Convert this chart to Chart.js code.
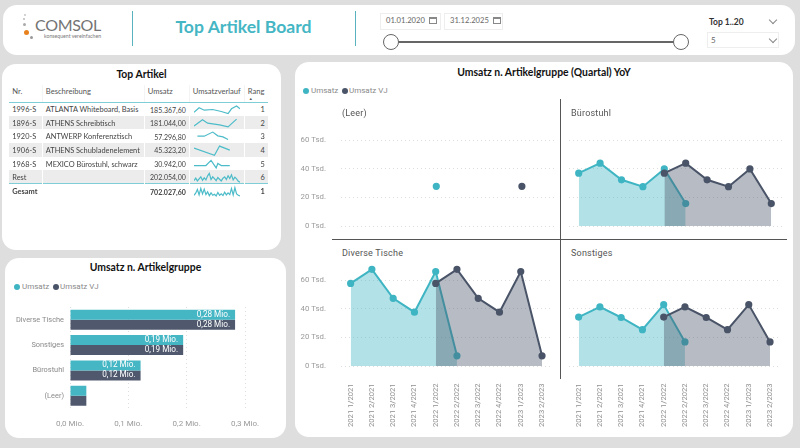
<!DOCTYPE html>
<html>
<head>
<meta charset="utf-8">
<script src="https://cdn.jsdelivr.net/npm/chart.js@4"></script>
<style>
  * { box-sizing: border-box; }
  html, body { margin: 0; padding: 0; }
  body { width: 800px; height: 448px; background: #dedede; overflow: hidden; position: relative; font-family: Lato, sans-serif; }
  .abs { position: absolute; }
  .card { position: absolute; background: #fff; border-radius: 14px; }
  .cardtitle { position: absolute; font-weight: 700; font-size: 10.4px; color: #111; text-align: center; white-space: nowrap; }
  canvas { position: absolute; }
  .dot { position: absolute; border-radius: 50%; }
  .txt { position: absolute; white-space: nowrap; line-height: 1; }
  .legend { font-size: 8px; color: #8a8a8a; font-family: Roboto, sans-serif; }
  .ptitle { font-size: 9px; color: #555; font-family: Roboto, sans-serif; letter-spacing: .2px; }
  .box { position: absolute; border: 1px solid #eee; background: #fff; }
  .chev { position: absolute; width: 6px; height: 6px; border-right: 1px solid #888; border-bottom: 1px solid #888; transform: rotate(45deg); }
  .cal { position: absolute; width: 8px; height: 7px; border: 1px solid #888; border-top-width: 2px; }
  table { position: absolute; left: 9.3px; top: 85px; width: 258.4px; border-collapse: collapse; table-layout: fixed; font-size: 7.4px; color: #444; }
  th { font-weight: 400; text-align: left; height: 17px; padding: 0 0 5px 3px; border-bottom: 1.5px solid #7fcdd6; border-left: 1px solid #f4f4f4; vertical-align: middle; color: #555; font-size: 7.6px; white-space: nowrap; }
  th:first-child, td:first-child { border-left: 0; }
  td { height: 13.67px; padding: 2px 3px 0 3px; border-left: 1px solid #fff; white-space: nowrap; line-height: 1; overflow: visible; position: relative; }
  td.num { text-align: right; }
  td.sales { font-size: 7px; }
  tr.alt td { background: #ececec; }
  tr.total td { font-weight: 700; border-top: 1.5px solid #7fcdd6; }
</style>
</head>
<body>

<!-- header -->
<div class="card" style="left:3px;top:5px;width:792px;height:50px;"></div>
<div class="dot" style="left:23.5px;top:29.5px;width:5px;height:5px;background:#e8821e;"></div>
<div class="dot" style="left:29.5px;top:35.5px;width:3.4px;height:3.4px;background:#999;"></div>
<div class="dot" style="left:22.5px;top:23px;width:3.4px;height:3.4px;background:#aaa;"></div>
<div class="dot" style="left:23px;top:18px;width:2.4px;height:2.4px;background:#bbb;"></div>
<div class="dot" style="left:24px;top:14px;width:1.6px;height:1.6px;background:#ccc;"></div>
<div class="txt" style="left:35px;top:17px;font-size:16px;color:#747474;letter-spacing:-.3px;">COMSOL</div>
<div class="txt" style="left:44px;top:34px;font-size:5.2px;color:#777;">konsequent vereinfachen</div>
<div class="abs" style="left:131.5px;top:11px;width:1.5px;height:35px;background:#58b3bf;"></div>
<div class="abs" style="left:354.5px;top:11px;width:1.5px;height:35px;background:#58b3bf;"></div>
<div class="txt" style="left:132px;width:223px;top:17.5px;text-align:center;font-size:17.6px;font-weight:700;color:#45b6c4;">Top Artikel Board</div>

<div class="box" style="left:380px;top:12.5px;width:61px;height:17px;"></div>
<div class="txt" style="left:386px;top:17px;font-size:7.6px;color:#666;">01.01.2020</div>
<div class="cal" style="left:429px;top:17px;"></div>
<div class="box" style="left:444px;top:12.5px;width:59px;height:17px;"></div>
<div class="txt" style="left:450px;top:17px;font-size:7.6px;color:#666;">31.12.2025</div>
<div class="cal" style="left:493px;top:17px;"></div>
<div class="abs" style="left:390px;top:40.5px;width:291px;height:2px;background:#666;"></div>
<div class="dot" style="left:383px;top:34px;width:16px;height:16px;background:#fff;border:1.5px solid #666;"></div>
<div class="dot" style="left:673px;top:34px;width:16px;height:16px;background:#fff;border:1.5px solid #666;"></div>
<div class="txt" style="left:709px;top:17.5px;font-size:8.5px;font-weight:700;color:#333;">Top 1..20</div>
<div class="chev" style="left:770px;top:17px;"></div>
<div class="box" style="left:707px;top:31.5px;width:72px;height:16px;"></div>
<div class="txt" style="left:711px;top:36px;font-size:8px;color:#666;">5</div>
<div class="chev" style="left:770px;top:36px;"></div>

<!-- table card -->
<div class="card" style="left:2px;top:64px;width:279px;height:186px;"></div>
<div class="cardtitle" style="left:2px;width:279px;top:68px;">Top Artikel</div>
<table id="articleTable"></table>

<!-- bar card -->
<div class="card" style="left:5px;top:258px;width:281px;height:180px;"></div>
<div class="cardtitle" style="left:5px;width:281px;top:261px;">Umsatz n. Artikelgruppe</div>
<div class="dot" style="left:14px;top:283.5px;width:6px;height:6px;background:#3fb5c3;"></div>
<div class="txt legend" style="left:22px;top:282.5px;">Umsatz</div>
<div class="dot" style="left:53px;top:283.5px;width:6px;height:6px;background:#4a5468;"></div>
<div class="txt legend" style="left:60px;top:282.5px;">Umsatz VJ</div>
<canvas id="barChart" style="left:5px;top:296px;width:281px;height:139px;" width="281" height="139"></canvas>

<!-- quarter card -->
<div class="card" style="left:295px;top:62px;width:498px;height:375px;"></div>
<div class="cardtitle" style="left:295px;width:498px;top:66px;">Umsatz n. Artikelgruppe (Quartal) YoY</div>
<div class="dot" style="left:303px;top:88px;width:6px;height:6px;background:#3fb5c3;"></div>
<div class="txt legend" style="left:311px;top:87px;">Umsatz</div>
<div class="dot" style="left:342px;top:88px;width:6px;height:6px;background:#4a5468;"></div>
<div class="txt legend" style="left:349px;top:87px;">Umsatz VJ</div>
<div class="txt ptitle" style="left:342px;top:108.5px;">(Leer)</div>
<div class="txt ptitle" style="left:571px;top:108.5px;">Bürostuhl</div>
<div class="txt ptitle" style="left:342px;top:248.5px;">Diverse Tische</div>
<div class="txt ptitle" style="left:571px;top:248.5px;">Sonstiges</div>
<canvas id="panelLeer" style="left:296px;top:117px;width:265px;height:115px;" width="265" height="115"></canvas>
<canvas id="panelBuero" style="left:561px;top:117px;width:228px;height:115px;" width="228" height="115"></canvas>
<canvas id="panelTische" style="left:296px;top:257px;width:265px;height:173px;" width="265" height="173"></canvas>
<canvas id="panelSonst" style="left:561px;top:257px;width:228px;height:173px;" width="228" height="173"></canvas>
<div class="abs" style="left:559.5px;top:99px;width:1px;height:280px;background:#555;"></div>
<div class="abs" style="left:332px;top:239px;width:455px;height:1px;background:#555;"></div>

<script>
// table
const articleNr = ['1996-S', '1896-S', '1920-S', '1906-S', '1968-S', 'Rest', 'Gesamt'];
const articleName = ['ATLANTA Whiteboard, Basis', 'ATHENS Schreibtisch', 'ANTWERP Konferenztisch', 'ATHENS Schubladenelement', 'MEXICO Bürostuhl, schwarz', '', ''];
const articleSales = ['185.367,60', '181.044,00', '57.296,80', '45.323,20', '30.942,00', '202.054,00', '702.027,60'];
const articleRank = [1, 2, 3, 4, 5, 6, 1];

// sparklines
const n = null;
const spark1 = [14, n, n, 27, n, n, 20, n, n, n, n, 22, n, n, n, n, 16, n, n, n, 10, n, 24, n, n, 32, n, 24];
const spark2 = [12, n, n, n, n, 30, n, n, 20, n, n, n, n, n, n, 15, n, n, n, n, 9, n, n, n, n, 32, n, n];
const spark3 = [n, n, 20, n, n, n, 20, n, n, n, n, 32, n, n, 21, n, n, 18, n, n, 10, n, n, n, n, n, n, n];
const spark4 = [26, n, n, n, n, n, n, n, n, n, n, n, 5, n, n, 32, n, n, n, n, n, 20, n, n, n, n, n, n];
const spark5 = [16, n, n, n, n, n, n, 16, n, n, 31, n, n, 9, 22, n, 16, n, n, n, n, 16, n, n, n, n, n, n];
const sparkRest = [10, 17, 9, 15, 21, 11, 18, 12, 24, 31, 13, 21, 16, 10, 19, 14, 9, 17, 21, 13, 24, 16, 27, 12, 20, 15, 8, 5];
const sparkTotal = [8, 14, 25, 9, 28, 12, 26, 10, 18, 7, 15, 8, 11, 6, 16, 8, 12, 7, 17, 9, 15, 10, 28, 9, 30, 12, 8, 6];
const sparkSeries = [spark1, spark2, spark3, spark4, spark5, sparkRest, sparkTotal];
const sparkMonths = sparkRest.map((v, i) => i + 1);

// bars
const barGroups = ['Diverse Tische', 'Sonstiges', 'Bürostuhl', '(Leer)'];
const barUmsatz = [0.283, 0.194, 0.121, 0.028];
const barUmsatzVJ = [0.283, 0.194, 0.121, 0.028];
const barTicks = [0, 0.1, 0.2, 0.3];

// quarters
const quarters = ['2021 1/2021', '2021 2/2021', '2021 3/2021', '2021 4/2021', '2022 1/2022', '2022 2/2022', '2022 3/2022', '2022 4/2022', '2023 1/2023', '2023 2/2023'];
const leerUmsatz = [n, n, n, n, 27.7, n, n, n, n, n];
const leerVJ = [n, n, n, n, n, n, n, n, 27.7, n];
const bueroUmsatz = [36.9, 43.9, 32.3, 27.5, 39.9, 15.7, n, n, n, n];
const bueroVJ = [n, n, n, n, 36.9, 43.9, 32.3, 27.5, 39.9, 15.7];
const tischeUmsatz = [57.7, 67.6, 47.3, 37.6, 66, 7.1, n, n, n, n];
const tischeVJ = [n, n, n, n, 57.7, 67.6, 47.3, 37.6, 66, 7.1];
const sonstUmsatz = [34.2, 41.3, 33.9, 25.4, 42.9, 16.8, n, n, n, n];
const sonstVJ = [n, n, n, n, 34.2, 41.3, 33.9, 25.4, 42.9, 16.8];

const teal = '#3fb5c3';
const dark = '#4a5468';
const chartFont = 'Roboto';

// build the table
const table = document.getElementById('articleTable');
let html = '<colgroup><col style="width:33px"><col style="width:102px"><col style="width:45px"><col style="width:55px"><col></colgroup>';
html += '<tr><th>Nr.</th><th>Beschreibung</th><th>Umsatz</th><th>Umsatzverlauf</th><th>Rang<div class="abs" style="left:4px;top:11px;font-size:4px;">&#9650;</div></th></tr>';
articleNr.forEach((nr, i) => {
  const cls = i === 6 ? 'total' : (i % 2 === 1 ? 'alt' : '');
  html += '<tr class="' + cls + '"><td>' + nr + '</td><td>' + articleName[i] + '</td><td class="num sales">' + articleSales[i] + '</td>' +
    '<td><canvas id="spark' + i + '" width="46" height="14" style="left:4.5px;top:0;width:46px;height:14px;"></canvas></td><td class="num">' + articleRank[i] + '</td></tr>';
});
table.innerHTML = html;
table.querySelector('th:last-child').style.position = 'relative';

sparkSeries.forEach((values, i) => {
  new Chart(document.getElementById('spark' + i), {
    type: 'line',
    data: {
      labels: sparkMonths,
      datasets: [{ data: values, borderColor: '#4dbcc9', borderWidth: 1.2, pointRadius: 0, spanGaps: true, clip: false, tension: 0 }]
    },
    options: {
      responsive: false,
      animation: false,
      plugins: { legend: { display: false }, tooltip: { enabled: false } },
      scales: { x: { display: false }, y: { display: false, min: 0, max: 41 } }
    }
  });
});

// value labels inside the bars
const barLabels = {
  id: 'barLabels',
  afterDatasetsDraw(chart) {
    const ctx = chart.ctx;
    ctx.save();
    ctx.font = '8.2px ' + chartFont;
    ctx.fillStyle = '#fff';
    ctx.textAlign = 'right';
    ctx.textBaseline = 'middle';
    chart.data.datasets.forEach((ds, d) => {
      chart.getDatasetMeta(d).data.forEach((bar, i) => {
        if (ds.data[i] < 0.1) return;
        ctx.fillText(ds.data[i].toFixed(2).replace('.', ',') + ' Mio.', bar.x - 5, bar.y);
      });
    });
    ctx.restore();
  }
};

new Chart(document.getElementById('barChart'), {
  type: 'bar',
  plugins: [barLabels],
  data: {
    labels: barGroups,
    datasets: [
      { label: 'Umsatz', data: barUmsatz, backgroundColor: '#45b6c4', categoryPercentage: 0.787, barPercentage: 1 },
      { label: 'Umsatz VJ', data: barUmsatzVJ, backgroundColor: '#4f586d', categoryPercentage: 0.787, barPercentage: 1 }
    ]
  },
  options: {
    indexAxis: 'y',
    responsive: false,
    animation: false,
    layout: { padding: { top: 11, right: 41 } },
    plugins: { legend: { display: false }, tooltip: { enabled: false } },
    scales: {
      x: {
        min: 0,
        max: 0.3,
        afterBuildTicks: s => { s.ticks = barTicks.map(v => ({ value: v })); },
        afterFit: s => { s.height = 26.5; },
        border: { display: true, dash: [1, 3], color: 'transparent' },
        grid: { color: '#dedede', lineWidth: 1, drawTicks: false },
        ticks: {
          padding: 11,
          maxRotation: 0,
          color: '#9a9a9a',
          font: { family: chartFont, size: 8 },
          callback: v => v.toFixed(1).replace('.', ',') + ' Mio.'
        }
      },
      y: {
        afterFit: s => { s.width = 65; },
        border: { display: false },
        grid: { display: false, drawTicks: false },
        ticks: { padding: 6, color: '#8a8a8a', font: { family: chartFont, size: 7.4 } }
      }
    }
  }
});

function quarterPanel(id, umsatz, vj, showY, showX) {
  const yWidth = showY ? 44 : 7;
  new Chart(document.getElementById(id), {
    type: 'line',
    data: {
      labels: quarters,
      datasets: [
        { label: 'Umsatz VJ', data: vj, order: 0, borderColor: dark, backgroundColor: dark, borderWidth: 2, pointRadius: 2.6, tension: 0,
          fill: { target: 'origin', above: 'rgba(74,84,104,0.4)' } },
        { label: 'Umsatz', data: umsatz, order: 1, borderColor: teal, backgroundColor: teal, borderWidth: 2, pointRadius: 2.6, tension: 0,
          fill: { target: 'origin', above: 'rgba(63,181,195,0.4)' } }
      ]
    },
    options: {
      responsive: false,
      animation: false,
      layout: { padding: { right: 7, bottom: showX ? 0 : 6 } },
      plugins: { legend: { display: false }, tooltip: { enabled: false } },
      scales: {
        x: {
          display: showX,
          offset: true,
          afterFit: s => { s.height = showX ? 64 : 0; },
          border: { display: false },
          grid: { display: false },
          ticks: {
            padding: 9.5,
            autoSkip: false,
            minRotation: 90,
            maxRotation: 90,
            color: '#8f8f8f',
            font: { family: chartFont, size: 7.6 }
          }
        },
        y: {
          min: 0,
          max: 72,
          // the scale would pad the plot area otherwise
          afterFit: s => { s.width = yWidth; s.paddingTop = 0; s.paddingBottom = 0; },
          border: { display: true, dash: [1, 3], color: 'transparent' },
          grid: { color: '#dedede', lineWidth: 1, drawTicks: false },
          ticks: {
            display: showY,
            stepSize: 20,
            includeBounds: false,
            padding: 14,
            color: '#9a9a9a',
            font: { family: chartFont, size: 7.8 },
            callback: v => v + ' Tsd.'
          }
        }
      }
    }
  });
}

quarterPanel('panelLeer', leerUmsatz, leerVJ, true, false);
quarterPanel('panelBuero', bueroUmsatz, bueroVJ, false, false);
quarterPanel('panelTische', tischeUmsatz, tischeVJ, true, true);
quarterPanel('panelSonst', sonstUmsatz, sonstVJ, false, true);
</script>
</body>
</html>
